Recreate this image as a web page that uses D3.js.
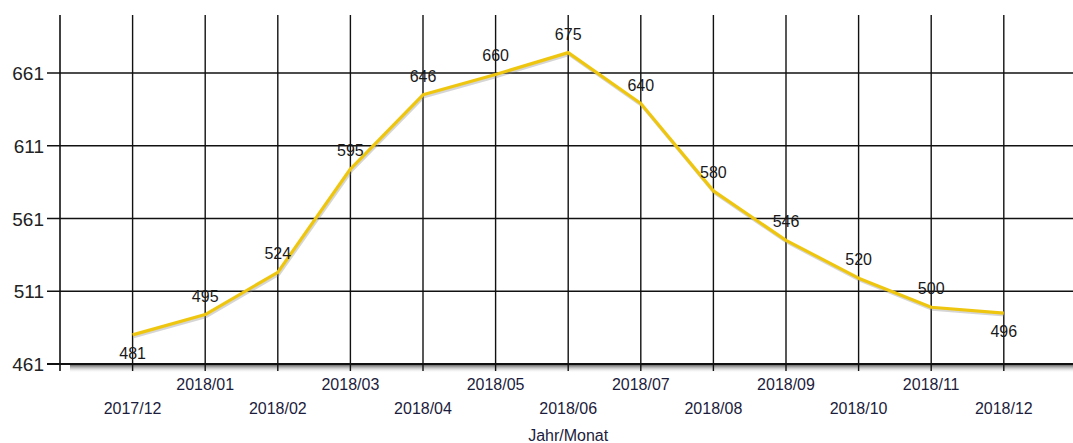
<!DOCTYPE html>
<html>
  <head>
    <meta charset="utf-8" />
    <title>Jahr/Monat</title>
    <script src="https://d3js.org/d3.v7.min.js"></script>
    <style>
      body { margin: 0; background: #fff; }
      text { font-family: "Liberation Sans", Arial, sans-serif; }
    </style>
  </head>
  <body>
    <svg width="1073" height="443"></svg>
    <script>
      var months = ["2017/12", "2018/01", "2018/02", "2018/03", "2018/04", "2018/05", "2018/06",
        "2018/07", "2018/08", "2018/09", "2018/10", "2018/11", "2018/12"];
      var values = [481, 495, 524, 595, 646, 660, 675, 640, 580, 546, 520, 500, 496];
      var yTicks = [461, 511, 561, 611, 661];

      var svg = d3.select("svg"),
        width = +svg.attr("width"),
        height = +svg.attr("height");

      var plotLeft = 60, plotTop = 15, plotBottom = 364;

      var x = d3.scaleLinear().domain([-1, 13]).range([plotLeft, plotLeft + 14 * 72.6]);
      var y = d3.scaleLinear().domain([461, 661]).range([plotBottom, plotBottom - 4 * 72.75]);

      // schatten unter der x-achse
      var defs = svg.append("defs");
      var grad = defs.append("linearGradient").attr("id", "shadow")
        .attr("x1", 0).attr("y1", 0).attr("x2", 0).attr("y2", 1);
      grad.append("stop").attr("offset", "0%").attr("stop-color", "#444").attr("stop-opacity", 1);
      grad.append("stop").attr("offset", "100%").attr("stop-color", "#fff").attr("stop-opacity", 0);
      svg.append("rect")
        .attr("x", plotLeft + 10).attr("y", plotBottom)
        .attr("width", width - plotLeft - 10).attr("height", 9)
        .attr("fill", "url(#shadow)");

      // horizontale gitterlinien
      svg.selectAll(".hgrid").data(yTicks.slice(1)).enter().append("line")
        .attr("x1", plotLeft - 13).attr("x2", width)
        .attr("y1", d => y(d)).attr("y2", d => y(d))
        .attr("stroke", "#111").attr("stroke-width", 1.4);

      // vertikale gitterlinien
      svg.selectAll(".vgrid").data(months).enter().append("line")
        .attr("x1", (d, i) => x(i)).attr("x2", (d, i) => x(i))
        .attr("y1", plotTop).attr("y2", plotBottom + 7)
        .attr("stroke", "#111").attr("stroke-width", 1.4);

      // achsen
      svg.append("line").attr("x1", plotLeft).attr("x2", plotLeft).attr("y1", plotTop).attr("y2", plotBottom + 7)
        .attr("stroke", "#111").attr("stroke-width", 1.6);
      svg.append("line").attr("x1", plotLeft - 13).attr("x2", width).attr("y1", plotBottom).attr("y2", plotBottom)
        .attr("stroke", "#111").attr("stroke-width", 2);

      // y beschriftung
      svg.selectAll(".ylab").data(yTicks).enter().append("text")
        .attr("x", plotLeft - 16).attr("y", d => y(d) + 7)
        .attr("text-anchor", "end").attr("font-size", 19).attr("fill", "#222")
        .text(d => d);

      // x beschriftung, versetzt
      svg.selectAll(".xlab").data(months).enter().append("text")
        .attr("x", (d, i) => x(i))
        .attr("y", (d, i) => i % 2 === 0 ? 414 : 390)
        .attr("text-anchor", "middle").attr("font-size", 16).attr("fill", "#1c1c3c")
        .text(d => d);

      svg.append("text").attr("x", x(6)).attr("y", 441)
        .attr("text-anchor", "middle").attr("font-size", 16).attr("fill", "#1c1c3c")
        .text("Jahr/Monat");

      // linie
      var line = d3.line().x((d, i) => x(i)).y(d => y(d));
      svg.append("path").datum(values)
        .attr("d", line).attr("fill", "none")
        .attr("stroke", "#888").attr("stroke-opacity", 0.35).attr("stroke-width", 3)
        .attr("transform", "translate(1,2)");
      svg.append("path").datum(values)
        .attr("d", line).attr("fill", "none")
        .attr("stroke", "#EFC60F").attr("stroke-width", 3.2).attr("stroke-linejoin", "round");

      // werte
      svg.selectAll(".val").data(values).enter().append("text")
        .attr("x", (d, i) => x(i))
        .attr("y", (d, i) => (i === 0 || i === values.length - 1) ? y(d) + 24 : y(d) - 13)
        .attr("text-anchor", "middle").attr("font-size", 16).attr("fill", "#1a1a1a")
        .text(d => d);
    </script>
  </body>
</html>
